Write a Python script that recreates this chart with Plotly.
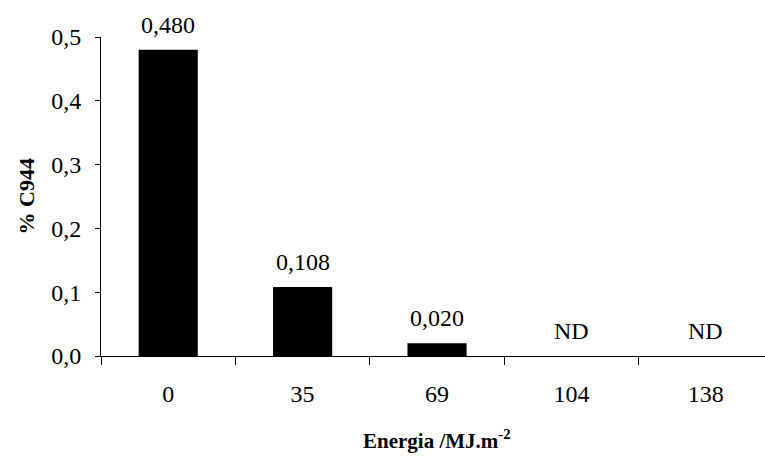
import plotly.graph_objects as go

categories = ["0", "35", "69", "104", "138"]
values = [0.480, 0.108, 0.020, 0.0, 0.0]
labels = ["0,480", "0,108", "0,020", "ND", "ND"]

W, H = 765, 457
L, R, T, B = 101, 0, 37, 101
serif = "Liberation Serif, Times New Roman, serif"

fig = go.Figure()
fig.add_trace(go.Bar(x=categories, y=values, marker=dict(color="black", line=dict(width=0)),
                     width=0.44))

for i, (v, t) in enumerate(zip(values, labels)):
    fig.add_annotation(x=i, y=v, xref="x", yref="y", text=t, showarrow=False,
                       yanchor="middle", yshift=25,
                       font=dict(family=serif, size=24, color="black"))

pw = W - L - R
fig.add_annotation(xref="paper", yref="paper", x=(437 - L) / pw, y=0, yanchor="bottom",
                   yshift=-(455 - (H - B)), showarrow=False,
                   text="<b>Energia /MJ.m<sup>-2</sup></b>",
                   font=dict(family=serif, size=21, color="black"))
fig.add_annotation(xref="paper", yref="paper", x=0, y=0.5, xanchor="center", yanchor="middle",
                   xshift=-(L - 26), showarrow=False, textangle=-90,
                   text="<b>% C944</b>",
                   font=dict(family=serif, size=22, color="black"))

fig.update_layout(
    width=W, height=H,
    margin=dict(l=L, r=R, t=T, b=B),
    paper_bgcolor="white", plot_bgcolor="white",
    separators=",.",
    showlegend=False,
    xaxis=dict(type="category", range=[-0.5, 4.44], showline=True, linecolor="black", linewidth=1,
               ticks="outside", tickson="boundaries", ticklen=8, tickcolor="black",
               showgrid=False, zeroline=False, ticklabelstandoff=16,
               tickfont=dict(family=serif, size=24, color="black")),
    yaxis=dict(range=[0, 0.5], dtick=0.1, tickformat=".1f", showline=True, linecolor="black",
               linewidth=1, ticks="outside", ticklen=5, tickcolor="black", showgrid=False,
               zeroline=False, ticklabelstandoff=9,
               tickfont=dict(family=serif, size=24, color="black")),
)

fig.write_html("out.html", config={"displayModeBar": False},
               post_script="document.body.style.margin='0';document.body.style.padding='0';")
